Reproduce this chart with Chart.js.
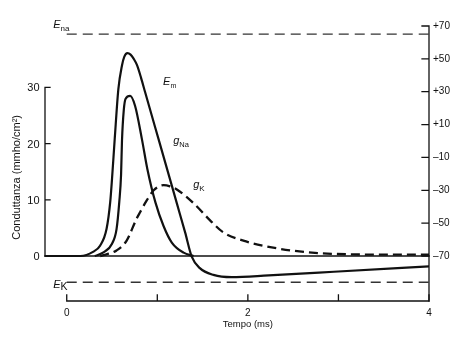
<!DOCTYPE html>
<html>
<head>
<meta charset="utf-8">
<script src="https://cdn.jsdelivr.net/npm/chart.js@4.4.1/dist/chart.umd.min.js"></script>
<style>
  html, body { margin: 0; padding: 0; background: #fff; }
  #wrap { width: 456px; height: 338px; position: relative; }
  canvas { display: block; }
</style>
</head>
<body>
<div id="wrap"><canvas id="c" width="456" height="338"></canvas></div>
<script>
// Axis ticks
const tempoTicks = [0, 1, 2, 3, 4];
const tempoLabels = ['0', '', '2', '', '4'];
const condTicks = [0, 10, 20, 30];
const condLabels = ['0', '10', '20', '30'];
const voltTicks = [70, 50, 30, 10, -10, -30, -50, -70];
const voltLabels = ['+70', '+50', '+30', '+10', '–10', '–30', '–50', '–70'];

// Membrane potential (mV) against time (ms)
const tempoEm = [-0.24, 0.15, 0.29, 0.37, 0.44, 0.48, 0.50, 0.53, 0.57, 0.61, 0.635, 0.67, 0.705, 0.74, 0.775, 0.82, 0.865, 0.976, 1.087, 1.216, 1.308, 1.38, 1.47, 1.62, 1.82, 2.23, 2.95, 4.0];
const em = [-70, -70, -67.5, -63.6, -53.4, -37.2, -23.1, 1.4, 31.6, 46.0, 51.2, 53.5, 52.6, 50.0, 46.3, 38.6, 29.8, 8.4, -13, -38, -55.8, -70.4, -77.4, -81.5, -82.9, -81.8, -79.6, -76.3];

// Sodium conductance (mmho/cm²)
const tempoGNa = [0.31, 0.41, 0.50, 0.55, 0.58, 0.60, 0.61, 0.63, 0.65, 0.70, 0.755, 0.83, 0.89, 0.98, 1.07, 1.16, 1.29, 1.40];
const gNa = [0, 0.7, 2.2, 4.8, 9.6, 14.5, 20.5, 26.0, 28.0, 28.5, 26.7, 20.8, 15.5, 9.5, 5.3, 2.4, 0.6, 0];

// Potassium conductance (mmho/cm²)
const tempoGK = [0.37, 0.55, 0.66, 0.77, 0.81, 0.88, 0.96, 1.07, 1.14, 1.22, 1.40, 1.58, 1.73, 1.98, 2.21, 2.50, 2.80, 3.13, 3.50, 4.0];
const gK = [0, 1.0, 2.7, 6.6, 7.8, 9.8, 11.7, 12.6, 12.4, 11.8, 9.4, 6.4, 4.2, 2.6, 1.7, 0.95, 0.5, 0.3, 0.25, 0.25];

// Equilibrium potentials (mV)
const E_NA = 65;
const E_K = -86;
const tempoRef = [0, 4];

const pts = (xs, ys) => xs.map((x, i) => ({ x, y: ys[i] }));
const flat = (xs, v) => xs.map(x => ({ x, y: v }));

const INK = '#111';
const SANS = '"Liberation Sans", Arial, sans-serif';

// Axes are drawn by hand: the conductance axis only covers 0–30,
// the voltage axis the full height, ticks point inward.
const axesPlugin = {
  id: 'axes',
  beforeDatasetsDraw(chart) {
    const { ctx, chartArea: a, scales } = chart;
    const x = scales.x, yG = scales.yG, yV = scales.yV;
    const xl = a.left, xr = x.getPixelForValue(4);
    ctx.save();
    ctx.strokeStyle = INK;
    ctx.lineCap = 'square';

    // conductance axis
    ctx.lineWidth = 1.3;
    ctx.beginPath();
    ctx.moveTo(xl, yG.getPixelForValue(0));
    ctx.lineTo(xl, yG.getPixelForValue(30));
    condTicks.forEach(v => {
      if (v === 0) return;
      const y = yG.getPixelForValue(v);
      ctx.moveTo(xl, y);
      ctx.lineTo(xl + 5, y);
    });
    ctx.stroke();

    // zero conductance / resting line
    ctx.lineWidth = 1.6;
    ctx.beginPath();
    ctx.moveTo(xl, yG.getPixelForValue(0));
    ctx.lineTo(xr, yG.getPixelForValue(0));
    ctx.stroke();

    // voltage axis
    ctx.lineWidth = 1.3;
    ctx.beginPath();
    ctx.moveTo(xr, a.top);
    ctx.lineTo(xr, a.bottom);
    voltTicks.forEach(v => {
      const y = yV.getPixelForValue(v);
      ctx.moveTo(xr, y);
      ctx.lineTo(xr - 7, y);
    });
    ctx.stroke();

    // time axis
    ctx.beginPath();
    ctx.moveTo(x.getPixelForValue(0), a.bottom);
    ctx.lineTo(xr, a.bottom);
    tempoTicks.forEach(t => {
      const px = x.getPixelForValue(t);
      ctx.moveTo(px, a.bottom);
      ctx.lineTo(px, a.bottom - 6);
    });
    ctx.stroke();

    // tick labels
    ctx.fillStyle = INK;
    ctx.textBaseline = 'middle';
    ctx.font = '11px ' + SANS;
    ctx.textAlign = 'right';
    condTicks.forEach((v, i) => ctx.fillText(condLabels[i], xl - 5.5, yG.getPixelForValue(v) + 1));

    ctx.font = '10px "Liberation Sans Narrow", ' + SANS;
    ctx.textAlign = 'left';
    voltTicks.forEach((v, i) => ctx.fillText(voltLabels[i], xr + 4, yV.getPixelForValue(v)));

    ctx.font = '10px ' + SANS;
    ctx.textAlign = 'center';
    ctx.textBaseline = 'alphabetic';
    tempoTicks.forEach((t, i) => {
      if (tempoLabels[i]) ctx.fillText(tempoLabels[i], x.getPixelForValue(t), a.bottom + 15);
    });

    // axis titles
    ctx.font = '9.5px ' + SANS;
    ctx.fillText('Tempo (ms)', x.getPixelForValue(2), a.bottom + 26);

    ctx.save();
    ctx.font = '11px ' + SANS;
    ctx.translate(19.5, yG.getPixelForValue(14.00));
    ctx.rotate(-Math.PI / 2);
    ctx.textAlign = 'center';
    ctx.fillText('Conduttanza (mmho/cm²)', 0, 0);
    ctx.restore();

    ctx.restore();
  }
};

// Curve names with subscripts
const curveLabels = [
  { main: 'E', sub: 'na', t: -0.15, axis: 'yV', v: E_NA, dy: -6, subSize: 8, subDy: 3 },
  { main: 'E', sub: 'm', t: 1.064, axis: 'yV', v: 34, dy: 0, subSize: 7, subDy: 3 },
  { main: 'g', sub: 'Na', t: 1.175, axis: 'yG', v: 19.9, dy: 0, subSize: 7.5, subDy: 3 },
  { main: 'g', sub: 'K', t: 1.397, axis: 'yG', v: 12.1, dy: 0, subSize: 8, subDy: 3 },
  { main: 'E', sub: 'K', t: -0.15, axis: 'yV', v: E_K, dy: 5.5, subSize: 10.5, subDy: 2 }
];

const labelPlugin = {
  id: 'curveLabels',
  afterDatasetsDraw(chart) {
    const { ctx, scales } = chart;
    ctx.save();
    ctx.fillStyle = INK;
    ctx.textAlign = 'left';
    ctx.textBaseline = 'alphabetic';
    curveLabels.forEach(l => {
      const px = scales.x.getPixelForValue(l.t);
      const py = scales[l.axis].getPixelForValue(l.v) + l.dy;
      ctx.font = 'italic 11px ' + SANS;
      ctx.fillText(l.main, px, py);
      const w = ctx.measureText(l.main).width;
      ctx.font = l.subSize + 'px ' + SANS;
      ctx.fillText(l.sub, px + w, py + l.subDy);
    });
    ctx.restore();
  }
};

const solid = { borderColor: INK, borderWidth: 2.2, pointRadius: 0, fill: false, cubicInterpolationMode: 'monotone' };
const refLine = { borderColor: '#333', borderWidth: 1.3, borderDash: [10, 6], pointRadius: 0, fill: false };

new Chart(document.getElementById('c'), {
  type: 'line',
  data: {
    datasets: [
      { ...solid, label: 'Em', data: pts(tempoEm, em), yAxisID: 'yV' },
      { ...solid, label: 'gNa', data: pts(tempoGNa, gNa), yAxisID: 'yG' },
      { ...solid, label: 'gK', data: pts(tempoGK, gK), yAxisID: 'yG', borderWidth: 2.3, borderDash: [9, 5] },
      { ...refLine, label: 'ENa', data: flat(tempoRef, E_NA), yAxisID: 'yV' },
      { ...refLine, label: 'EK', data: flat(tempoRef, E_K), yAxisID: 'yV' }
    ]
  },
  options: {
    responsive: false,
    animation: false,
    devicePixelRatio: 1,
    events: [],
    layout: { padding: { left: 45, right: 27, top: 26, bottom: 37 } },
    plugins: { legend: { display: false }, tooltip: { enabled: false } },
    scales: {
      x: { type: 'linear', min: -0.24, max: 4.0, display: false },
      yG: { type: 'linear', position: 'left', min: -8, max: 40.93, display: false },
      yV: { type: 'linear', position: 'right', min: -97.4, max: 70, display: false }
    }
  },
  plugins: [axesPlugin, labelPlugin]
});
</script>
</body>
</html>
